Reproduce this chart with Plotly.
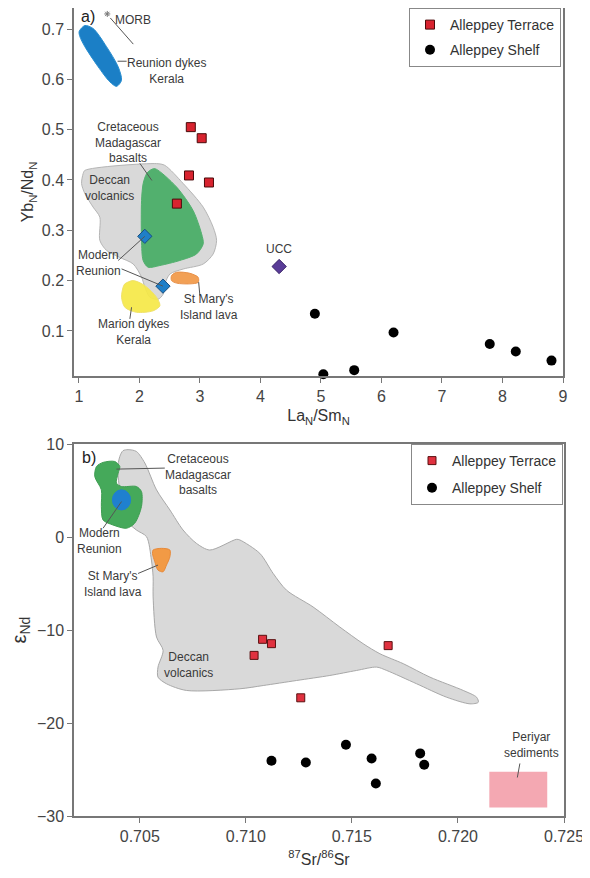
import plotly.graph_objects as go

# ---------------- Panel a data ----------------
terrace_a_x = [2.85, 3.03, 2.82, 3.15, 2.62]
terrace_a_y = [0.505, 0.483, 0.409, 0.395, 0.353]
shelf_a_x = [4.90, 5.04, 5.55, 6.20, 7.79, 8.22, 8.81]
shelf_a_y = [0.134, 0.014, 0.022, 0.097, 0.074, 0.059, 0.041]
reunion_a_x = [2.09, 2.39]
reunion_a_y = [0.288, 0.189]
ucc_x = [4.31]
ucc_y = [0.228]
morb_x = [1.47]
morb_y = [0.73]

# field outlines, panel a
deccan_a_x = [1.071, 1.099, 2.284, 2.421, 2.724, 3.055, 3.220, 3.276, 3.220, 3.055, 2.724, 2.504, 2.421,
              2.393, 2.311, 2.174, 2.091, 2.036, 1.898, 1.678, 1.458, 1.347, 1.347, 1.236, 1.099, 1.045]
deccan_a_y = [0.4125, 0.419, 0.4325, 0.429, 0.393, 0.346, 0.306, 0.280, 0.253, 0.233, 0.223, 0.213, 0.193,
              0.173, 0.163, 0.167, 0.187, 0.207, 0.233, 0.246, 0.260, 0.280, 0.326, 0.346, 0.373, 0.393]
madag_a_x = [2.174, 2.256, 2.615, 2.889, 3.028, 3.055, 2.945, 2.669, 2.339, 2.145, 2.063, 2.036, 2.036, 2.063, 2.119]
madag_a_y = [0.419, 0.4225, 0.386, 0.339, 0.293, 0.273, 0.253, 0.240, 0.230, 0.2265, 0.240, 0.280, 0.359, 0.393, 0.4125]
marion_a_x = [1.760, 1.898, 2.091, 2.284, 2.339, 2.228, 1.954, 1.760, 1.706, 1.732]
marion_a_y = [0.1935, 0.200, 0.190, 0.167, 0.150, 0.140, 0.137, 0.147, 0.167, 0.187]
stmary_a_x = [2.532, 2.615, 2.835, 2.972, 2.972, 2.835, 2.615, 2.532]
stmary_a_y = [0.210, 0.2165, 0.2145, 0.2065, 0.1965, 0.1935, 0.195, 0.200]
reudyke_a_x = [1.005, 1.099, 1.237, 1.457, 1.650, 1.705, 1.623, 1.512, 1.319, 1.099, 1.017]
reudyke_a_y = [0.695, 0.707, 0.701, 0.665, 0.625, 0.598, 0.586, 0.595, 0.625, 0.665, 0.685]

# ---------------- Panel b data ----------------
terrace_b_x = [0.71079, 0.71121, 0.71039, 0.71671, 0.71259]
terrace_b_y = [-11.0, -11.47, -12.73, -11.68, -17.29]
shelf_b_x = [0.71121, 0.71283, 0.71472, 0.71593, 0.71613, 0.71822, 0.71841]
shelf_b_y = [-24.06, -24.24, -22.33, -23.81, -26.5, -23.27, -24.49]

deccan_b_x = [0.70445, 0.70484, 0.70524, 0.70579, 0.70642, 0.70704, 0.70767, 0.70830, 0.70956, 0.70972,
              0.71066, 0.71129, 0.71192, 0.71317, 0.71443, 0.71553, 0.71632, 0.71742, 0.71868, 0.72025,
              0.72088, 0.72096, 0.72057, 0.71947, 0.71805, 0.71664, 0.71617, 0.71522, 0.71396, 0.71239,
              0.71082, 0.70972, 0.70720, 0.70626, 0.70586, 0.70586, 0.70610, 0.70579, 0.70563, 0.70563,
              0.70555, 0.70532, 0.70484, 0.70437, 0.70396, 0.70406, 0.70421]
deccan_b_y = [9.39, 9.20, 7.95, 5.07, 2.91, 0.755, -0.68, -1.40, -0.25, -0.32,
              -1.76, -3.92, -5.72, -7.52, -9.68, -11.47, -12.55, -13.62, -15.07, -16.50,
              -17.23, -17.77, -17.94, -17.23, -15.78, -14.35, -13.99, -14.35, -14.89, -15.43,
              -15.97, -16.32, -16.50, -15.78, -15.07, -13.99, -12.19, -10.76, -6.44, -4.28,
              -2.48, 0.03, 0.755, 1.83, 7.23, 8.66, 9.28]
madag_b_x = [0.70296, 0.70327, 0.70382, 0.70406, 0.70398, 0.70390, 0.70414, 0.70484, 0.70508, 0.70508,
             0.70476, 0.70437, 0.70374, 0.70327, 0.70319, 0.70319, 0.70288]
madag_b_y = [7.58, 8.02, 8.12, 7.58, 6.87, 5.79, 5.43, 5.43, 4.89, 3.27,
             1.48, 0.94, 1.29, 1.83, 3.27, 5.07, 6.50]
stmary_b_x = [0.70563, 0.70602, 0.70642, 0.70642, 0.70626, 0.70610, 0.70586, 0.70571, 0.70560]
stmary_b_y = [-1.40, -1.22, -1.40, -2.13, -3.02, -3.74, -3.56, -2.66, -1.76]
reunion_b_center = (0.70414, 3.99)
reunion_b_radius = (0.00043, 1.08)
periyar_x = [0.72148, 0.72421]
periyar_y = [-29.09, -25.24]

FONT = "Arial, Liberation Sans, sans-serif"
TXT = "#3a3a3a"

# page body has an 8px margin: figure is sized to fit the window exactly
W, H, OFF = 582, 870, 8


def px_x(p):
    return (p - OFF) / W


def px_y(p):
    return 1 - (p - OFF) / H


fig = go.Figure()


def closed(xs, ys):
    return list(xs) + [xs[0]], list(ys) + [ys[0]]


def field(xs, ys, fill, line, xa="x", ya="y", w=1):
    cx, cy = closed(xs, ys)
    fig.add_trace(go.Scatter(x=cx, y=cy, mode="lines", fill="toself", fillcolor=fill,
                             line=dict(color=line, width=w, shape="spline", smoothing=0.8),
                             hoverinfo="skip", showlegend=False, xaxis=xa, yaxis=ya))


# Panel a fields
field(deccan_a_x, deccan_a_y, "#d9d9d9", "#b5b5b5")
field(madag_a_x, madag_a_y, "#52b06e", "#52b06e")
field(marion_a_x, marion_a_y, "rgba(245,232,70,0.92)", "#f0e26a")
field(stmary_a_x, stmary_a_y, "#f2a055", "#e8914a")
field(reudyke_a_x, reudyke_a_y, "#1b7fc6", "#2a8fd0")

# Panel b fields
field(deccan_b_x, deccan_b_y, "#d9d9d9", "#a8a8a8", "x2", "y2")
field(madag_b_x, madag_b_y, "#45a95a", "#3f9e52", "x2", "y2")
field(stmary_b_x, stmary_b_y, "#f29a45", "#e88a3a", "x2", "y2")

# Panel a markers
fig.add_trace(go.Scatter(x=morb_x, y=morb_y, mode="markers", showlegend=False,
                         marker=dict(symbol="asterisk", size=5, color="#777",
                                     line=dict(color="#777", width=1))))
fig.add_trace(go.Scatter(x=reunion_a_x, y=reunion_a_y, mode="markers", showlegend=False,
                         marker=dict(symbol="diamond", size=11, color="#1f7fc8",
                                     line=dict(color="#1a4f80", width=1))))
fig.add_trace(go.Scatter(x=ucc_x, y=ucc_y, mode="markers", showlegend=False,
                         marker=dict(symbol="diamond", size=11, color="#5a3c98",
                                     line=dict(color="#3a2468", width=1))))
fig.add_trace(go.Scatter(x=terrace_a_x, y=terrace_a_y, mode="markers", name="Alleppey Terrace",
                         legend="legend", legendgroup="t1",
                         marker=dict(symbol="square", size=9, color="#d8232f",
                                     line=dict(color="#4a0a0a", width=1))))
fig.add_trace(go.Scatter(x=shelf_a_x, y=shelf_a_y, mode="markers", name="Alleppey Shelf",
                         legend="legend", legendgroup="s1", cliponaxis=False,
                         marker=dict(symbol="circle", size=10, color="black")))

# Panel b markers
fig.add_trace(go.Scatter(x=terrace_b_x, y=terrace_b_y, mode="markers", name="Alleppey Terrace",
                         legend="legend2", legendgroup="t2", xaxis="x2", yaxis="y2",
                         marker=dict(symbol="square", size=8, color="#e0313f",
                                     line=dict(color="#5a1010", width=1))))
fig.add_trace(go.Scatter(x=shelf_b_x, y=shelf_b_y, mode="markers", name="Alleppey Shelf",
                         legend="legend2", legendgroup="s2", xaxis="x2", yaxis="y2",
                         marker=dict(symbol="circle", size=10, color="black")))

shapes = []
# Panel b: Modern Reunion circle and Periyar box
shapes.append(dict(type="circle", xref="x2", yref="y2",
                   x0=reunion_b_center[0] - reunion_b_radius[0], x1=reunion_b_center[0] + reunion_b_radius[0],
                   y0=reunion_b_center[1] - reunion_b_radius[1], y1=reunion_b_center[1] + reunion_b_radius[1],
                   fillcolor="#1f80cf", line=dict(color="#1f80cf", width=1)))
shapes.append(dict(type="rect", xref="x2", yref="y2", x0=periyar_x[0], x1=periyar_x[1],
                   y0=periyar_y[0], y1=periyar_y[1], fillcolor="#f4a8b2", line=dict(width=0), layer="below"))

# leader lines (x0, y0, x1, y1, axis suffix)
leaders = [
    (1.52, 0.722, 1.90, 0.670, ""),
    (1.64, 0.636, 1.79, 0.636, ""),
    (2.008, 0.433, 2.207, 0.399, ""),
    (1.650, 0.240, 2.09, 0.288, ""),
    (1.706, 0.2233, 2.39, 0.189, ""),
    (2.98, 0.197, 3.00, 0.170, ""),
    (1.871, 0.147, 1.843, 0.124, ""),
    (0.70390, 7.30, 0.70618, 7.41, "2"),
    (0.70414, 3.81, 0.70327, 0.94, "2"),
    (0.70492, -3.92, 0.70586, -3.02, "2"),
    (0.72292, -24.35, 0.72280, -25.86, "2"),
]
for x0, y0, x1, y1, s in leaders:
    shapes.append(dict(type="line", xref="x" + s, yref="y" + s, x0=x0, y0=y0, x1=x1, y1=y1,
                       line=dict(color="#555", width=1)))

labels = [
    ("MORB", 1.90, 0.718, ""),
    ("Reunion dykes<br>Kerala", 2.45, 0.617, ""),
    ("Cretaceous<br>Madagascar<br>basalts", 1.81, 0.475, ""),
    ("Deccan<br>volcanics", 1.51, 0.385, ""),
    ("Modern<br>Reunion", 1.32, 0.235, ""),
    ("St Mary's<br>Island lava", 3.15, 0.148, ""),
    ("Marion dykes<br>Kerala", 1.90, 0.097, ""),
    ("UCC", 4.31, 0.262, ""),
    ("Cretaceous<br>Madagascar<br>basalts", 0.70775, 6.69, "2"),
    ("Modern<br>Reunion", 0.70308, -0.43, "2"),
    ("St Mary's<br>Island lava", 0.70374, -5.0, "2"),
    ("Deccan<br>volcanics", 0.70728, -13.8, "2"),
    ("Periyar<br>sediments", 0.72348, -22.4, "2"),
]
annotations = []
for t, x, y, s in labels:
    annotations.append(dict(text=t, x=x, y=y, xref="x" + s, yref="y" + s, showarrow=False,
                            font=dict(family=FONT, size=12, color=TXT), align="center"))
annotations.append(dict(text="a)", x=1.0, y=0.724, xref="x", yref="y", xanchor="left", showarrow=False,
                        font=dict(family=FONT, size=16, color="#222")))
annotations.append(dict(text="b)", x=0.7022, y=8.6, xref="x2", yref="y2", xanchor="left", showarrow=False,
                        font=dict(family=FONT, size=16, color="#222")))

axis_common = dict(showline=True, linecolor="#777", linewidth=1.5, mirror=True, ticks="outside",
                   ticklen=5, tickcolor="#777", showgrid=False, zeroline=False, automargin=False,
                   tickfont=dict(family=FONT, size=16, color="#444"))

fig.update_layout(
    width=W, height=H,
    margin=dict(l=0, r=0, t=0, b=0, autoexpand=False),
    paper_bgcolor="white", plot_bgcolor="white",
    font=dict(family=FONT, color=TXT),
    shapes=shapes, annotations=annotations,
    xaxis=dict(domain=[px_x(74), px_x(563)], range=[0.92, 9.0], tickvals=[1, 2, 3, 4, 5, 6, 7, 8, 9],
               anchor="y",
               title=dict(text="La<sub>N</sub>/Sm<sub>N</sub>", standoff=6,
                          font=dict(family=FONT, size=16, color="#333")), **axis_common),
    yaxis=dict(domain=[px_y(376), 1.0], range=[0.0104, 0.7418], anchor="x",
               tickvals=[0.1, 0.2, 0.3, 0.4, 0.5, 0.6, 0.7],
               title=dict(text="Yb<sub>N</sub>/Nd<sub>N</sub>", standoff=4,
                          font=dict(family=FONT, size=16, color="#333")), **axis_common),
    xaxis2=dict(domain=[px_x(74), px_x(564)], range=[0.7019, 0.725], anchor="y2",
                tickvals=[0.705, 0.710, 0.715, 0.720, 0.725], tickformat=".3f",
                title=dict(text="<sup>87</sup>Sr/<sup>86</sup>Sr", standoff=10,
                           font=dict(family=FONT, size=16, color="#333")), **axis_common),
    yaxis2=dict(domain=[px_y(816), px_y(444)], range=[-30, 10], anchor="x2",
                tickvals=[-30, -20, -10, 0, 10],
                title=dict(text="ε<sub>Nd</sub>", standoff=6,
                           font=dict(family=FONT, size=20, color="#333")), **axis_common),
    legend=dict(x=px_x(409), y=1.0, xanchor="left", yanchor="top",
                bgcolor="white", bordercolor="#888", borderwidth=1,
                font=dict(family=FONT, size=14, color="#333"), tracegroupgap=4,
                traceorder="grouped"),
    legend2=dict(x=px_x(411), y=px_y(444), xanchor="left", yanchor="top",
                 bgcolor="white", bordercolor="#888", borderwidth=1,
                 font=dict(family=FONT, size=14, color="#333"), tracegroupgap=6,
                 traceorder="grouped"),
)

fig.write_html("out.html")
